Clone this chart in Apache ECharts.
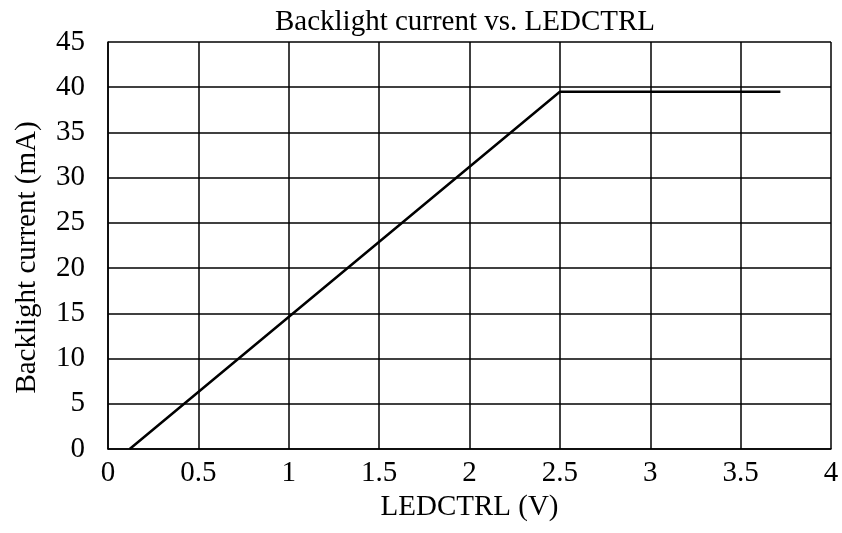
<!DOCTYPE html>
<html>
<head>
<meta charset="utf-8">
<script src="https://cdn.jsdelivr.net/npm/echarts@6/dist/echarts.min.js"></script>
<style>
  html, body { margin: 0; padding: 0; background: #fff; }
  #main { width: 842px; height: 533px; }
</style>
</head>
<body>
<div id="main"></div>
<script>
  // data
  var ledctrl = [0.12, 2.5, 3.72];
  var current = [0, 39.5, 39.5];

  var chartTitle = 'Backlight current vs. LEDCTRL';
  var xName = 'LEDCTRL (V)';
  var yName = 'Backlight current (mA)';

  var font = 'Liberation Serif, Times New Roman, serif';
  var fs = 29;

  var points = [];
  for (var i = 0; i < ledctrl.length; i++) {
    points.push([ledctrl[i], current[i]]);
  }

  var myChart = echarts.init(document.getElementById('main'));
  var option = {
    animation: false,
    backgroundColor: '#fff',
    title: {
      text: chartTitle,
      left: 465, top: 8,
      textAlign: 'center',
      padding: 0,
      textStyle: { fontFamily: font, fontSize: fs, fontWeight: 'normal', color: '#000' }
    },
    grid: { left: 108, right: 11, top: 42, bottom: 84 },
    xAxis: {
      type: 'value',
      min: 0, max: 4, interval: 0.5,
      name: xName,
      nameLocation: 'middle',
      nameGap: 37,
      nameTextStyle: { fontFamily: font, fontSize: fs, color: '#000' },
      axisLine: { show: true, lineStyle: { color: '#000', width: 1.5 } },
      axisTick: { show: false },
      axisLabel: { fontFamily: font, fontSize: fs, color: '#000', margin: 10 },
      splitLine: { show: true, lineStyle: { color: '#000', width: 1.5 } }
    },
    yAxis: {
      type: 'value',
      min: 0, max: 45, interval: 5,
      name: yName,
      nameLocation: 'middle',
      nameGap: 66,
      nameTextStyle: { fontFamily: font, fontSize: fs, color: '#000', padding: [0, 24, 0, 0] },
      axisLine: { show: true, lineStyle: { color: '#000', width: 1.5 } },
      axisTick: { show: false },
      axisLabel: { fontFamily: font, fontSize: fs, color: '#000', margin: 23 },
      splitLine: { show: true, lineStyle: { color: '#000', width: 1.5 } }
    },
    series: [{
      type: 'line',
      data: points,
      symbol: 'none',
      lineStyle: { color: '#000', width: 2.5 }
    }]
  };
  myChart.setOption(option);
</script>
</body>
</html>
